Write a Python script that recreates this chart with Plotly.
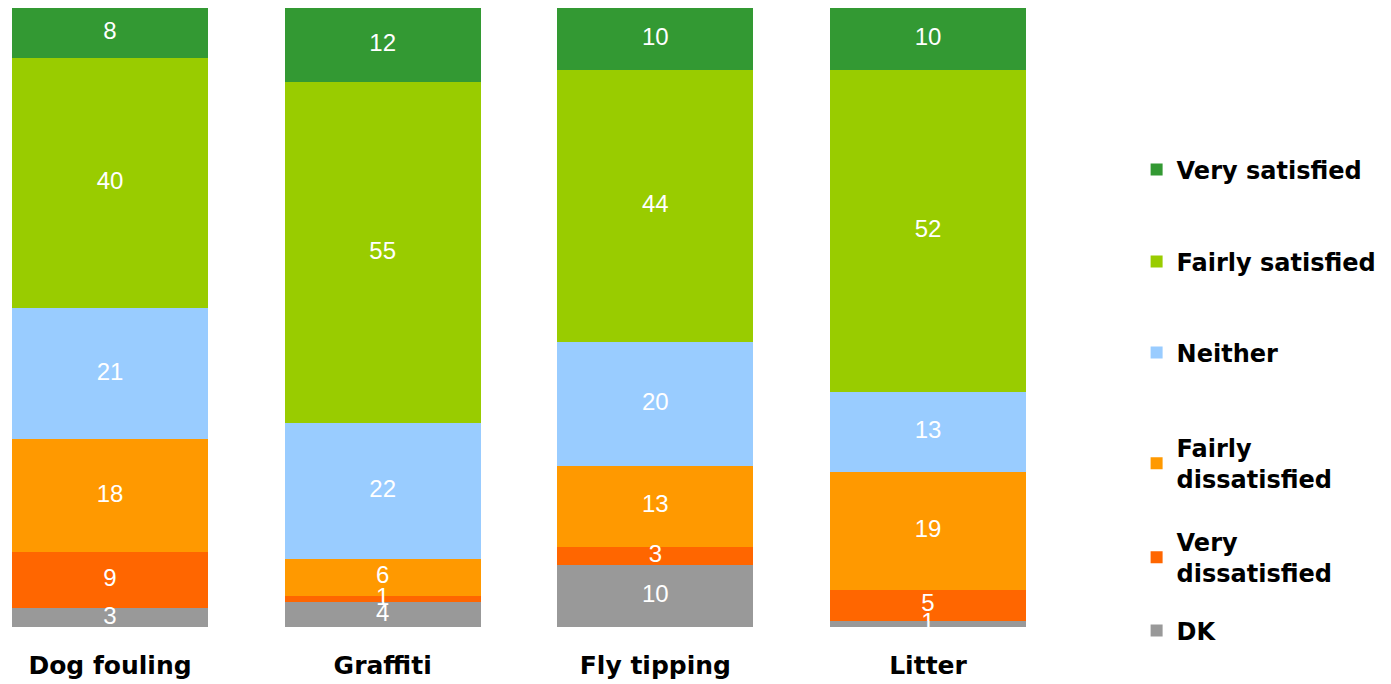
import plotly.graph_objects as go
import numpy as np

categories = ["Dog fouling", "Graffiti", "Fly tipping", "Litter"]
series_names = ["DK", "Very dissatisfied", "Fairly dissatisfied", "Neither", "Fairly satisfied", "Very satisfied"]
legend_labels = ["DK", "Very<br>dissatisfied", "Fairly<br>dissatisfied", "Neither", "Fairly satisfied", "Very satisfied"]
dk = [3, 4, 10, 1]
very_dissatisfied = [9, 1, 3, 5]
fairly_dissatisfied = [18, 6, 13, 19]
neither = [21, 22, 20, 13]
fairly_satisfied = [40, 55, 44, 52]
very_satisfied = [8, 12, 10, 10]
series_values = [dk, very_dissatisfied, fairly_dissatisfied, neither, fairly_satisfied, very_satisfied]
colors = ["#999999", "#FF6600", "#FF9900", "#99CCFF", "#99CC00", "#339933"]

OFF = 8  # page body margin
W, H = 1391 - OFF, 684 - OFF
ml, mr, mt, mb = 0, 343, 0, 57
plot_h = H - mt - mb

def py(page_pix):
    return (H - mb - (page_pix - OFF)) / plot_h

legend_centers = [631, 557.5, 463.5, 353, 262, 170]
legend_names = ["legend6", "legend5", "legend4", "legend3", "legend2", "legend"]

fig = go.Figure()
for i, (name, vals, col) in enumerate(zip(series_names, series_values, colors)):
    fig.add_trace(go.Bar(
        x=categories, y=vals, name=legend_labels[i],
        marker=dict(color=col, line=dict(width=0)),
        legend=legend_names[i], showlegend=True,
        hoverinfo="skip",
    ))

# value labels drawn on top of all bars (positions derived from the data through percent normalisation)
arr = np.array(series_values, dtype=float)
totals = arr.sum(axis=0)
pct = arr / totals * 100
cum = np.cumsum(pct, axis=0)
mid = cum - pct / 2
for i, vals in enumerate(series_values):
    fig.add_trace(go.Scatter(
        x=categories, y=mid[i], mode="text",
        text=[str(v) for v in vals], textposition="middle center",
        textfont=dict(color="white", size=24, family="Liberation Sans, Arial"),
        showlegend=False, hoverinfo="skip",
    ))

legend_common = dict(
    xanchor="left", yanchor="middle", x=1.0852,
    font=dict(family="DejaVu Sans", size=24, color="black", weight="bold"),
    bgcolor="rgba(0,0,0,0)", itemwidth=30, visible=True,
)
layout_legends = {}
for i, ln in enumerate(legend_names):
    d = dict(legend_common)
    d["y"] = py(legend_centers[i])
    layout_legends[ln] = d

fig.update_layout(
    barmode="stack", barnorm="percent", bargap=0.2813,
    width=W, height=H, showlegend=True,
    margin=dict(l=ml, r=mr, t=mt, b=mb),
    plot_bgcolor="white", paper_bgcolor="white",
    xaxis=dict(range=[-0.3741, 3.4400], showgrid=False, zeroline=False, showline=False,
               ticks="", ticklabelstandoff=21,
               tickfont=dict(family="DejaVu Sans", size=25, color="black", weight="bold")),
    yaxis=dict(range=[0, 100], visible=False),
    **layout_legends,
)
fig.write_html("out.html")
